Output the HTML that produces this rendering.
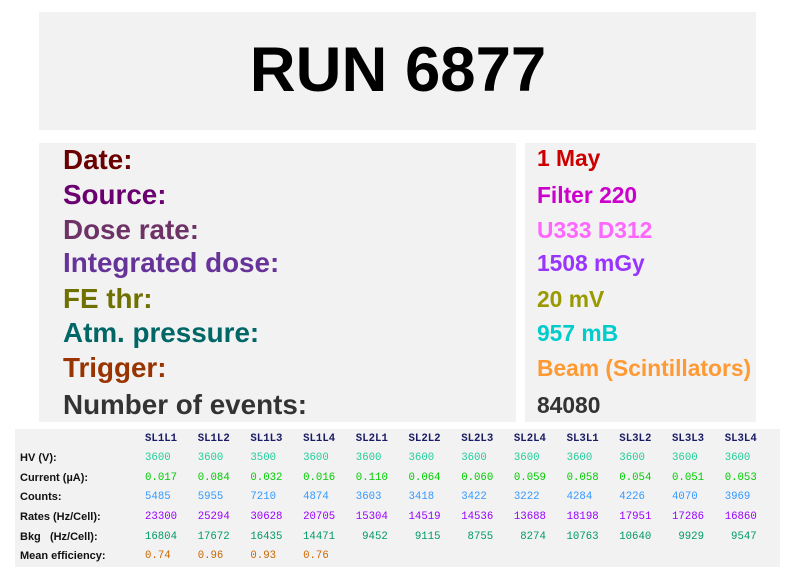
<!DOCTYPE html>
<html><head><meta charset="utf-8"><style>
body{margin:0;width:796px;height:572px;background:#fff;position:relative;overflow:hidden;font-family:"Liberation Sans",sans-serif}
.p{position:absolute;background:#f2f2f2}
.t{position:absolute;white-space:nowrap;font-weight:bold}
.L{font-size:27.8px;left:63px}
.V{font-size:22.8px;left:537px}
.lab{position:absolute;left:20px;font-size:11px;font-weight:bold;color:#111;line-height:20px}
.c{position:absolute;font-family:"Liberation Mono",monospace;font-size:10.7px;line-height:20px;width:40px;text-align:left}
</style></head><body>
<div class="p" style="left:39px;top:12px;width:717px;height:118px"></div>
<div class="t" style="left:0;width:796px;text-align:center;top:32px;font-size:63.5px;line-height:76px;color:#000">RUN 6877</div>
<div class="p" style="left:39px;top:143px;width:477px;height:279px"></div>
<div class="p" style="left:525px;top:143px;width:231px;height:279px"></div>
<div class="p" style="left:15px;top:429px;width:765px;height:138px"></div>

<div class="t L" style="top:144px;color:#6b0000">Date:</div>
<div class="t L" style="top:179px;color:#6a0070">Source:</div>
<div class="t L" style="top:214px;color:#6e3366">Dose rate:</div>
<div class="t L" style="top:247px;color:#663399">Integrated dose:</div>
<div class="t L" style="top:283px;color:#707000">FE thr:</div>
<div class="t L" style="top:317px;color:#006666">Atm. pressure:</div>
<div class="t L" style="top:352px;color:#993300">Trigger:</div>
<div class="t L" style="top:389px;color:#333">Number of events:</div>

<div class="t V" style="top:145px;color:#cc0000">1 May</div>
<div class="t V" style="top:182px;color:#cc00cc">Filter 220</div>
<div class="t V" style="top:217px;color:#ff66ff">U333 D312</div>
<div class="t V" style="top:250px;color:#9933ff">1508 mGy</div>
<div class="t V" style="top:286px;color:#999900">20 mV</div>
<div class="t V" style="top:320px;color:#00cccc">957 mB</div>
<div class="t V" style="top:355px;color:#ff9933">Beam (Scintillators)</div>
<div class="t V" style="top:392px;color:#333">84080</div>

<div id="tbl"></div>
<script>
var rows=[
["",["SL1L1","SL1L2","SL1L3","SL1L4","SL2L1","SL2L2","SL2L3","SL2L4","SL3L1","SL3L2","SL3L3","SL3L4"],"#1a1a66",1],
["HV (V):",["3600","3600","3500","3600","3600","3600","3600","3600","3600","3600","3600","3600"],"#22cc99",0],
["Current (\u00b5A):",["0.017","0.084","0.032","0.016","0.110","0.064","0.060","0.059","0.058","0.054","0.051","0.053"],"#00cc00",0],
["Counts:",["5485","5955","7210","4874","3603","3418","3422","3222","4284","4226","4070","3969"],"#3399ff",0],
["Rates (Hz/Cell):",["23300","25294","30628","20705","15304","14519","14536","13688","18198","17951","17286","16860"],"#9900ff",0],
["Bkg &nbsp; (Hz/Cell):",["16804","17672","16435","14471","9452","9115","8755","8274","10763","10640","9929","9547"],"#009966",0],
["Mean efficiency:",["0.74","0.96","0.93","0.76"],"#cc6600",0]];
var h="";
rows.forEach(function(r,i){var y=428.5+i*19.6;
h+='<div class="lab" style="top:'+y+'px">'+r[0]+'</div>';
r[1].forEach(function(v,j){var x=145+j*52.7;
var right=(i==5);
h+='<div class="c" style="top:'+y+'px;left:'+(right?x-8:x)+'px;text-align:'+(right?'right':'left')+';color:'+r[2]+';font-weight:'+(r[3]?'bold':'normal')+'">'+v+'</div>';});});
document.getElementById('tbl').innerHTML=h;
</script>
</body></html>
